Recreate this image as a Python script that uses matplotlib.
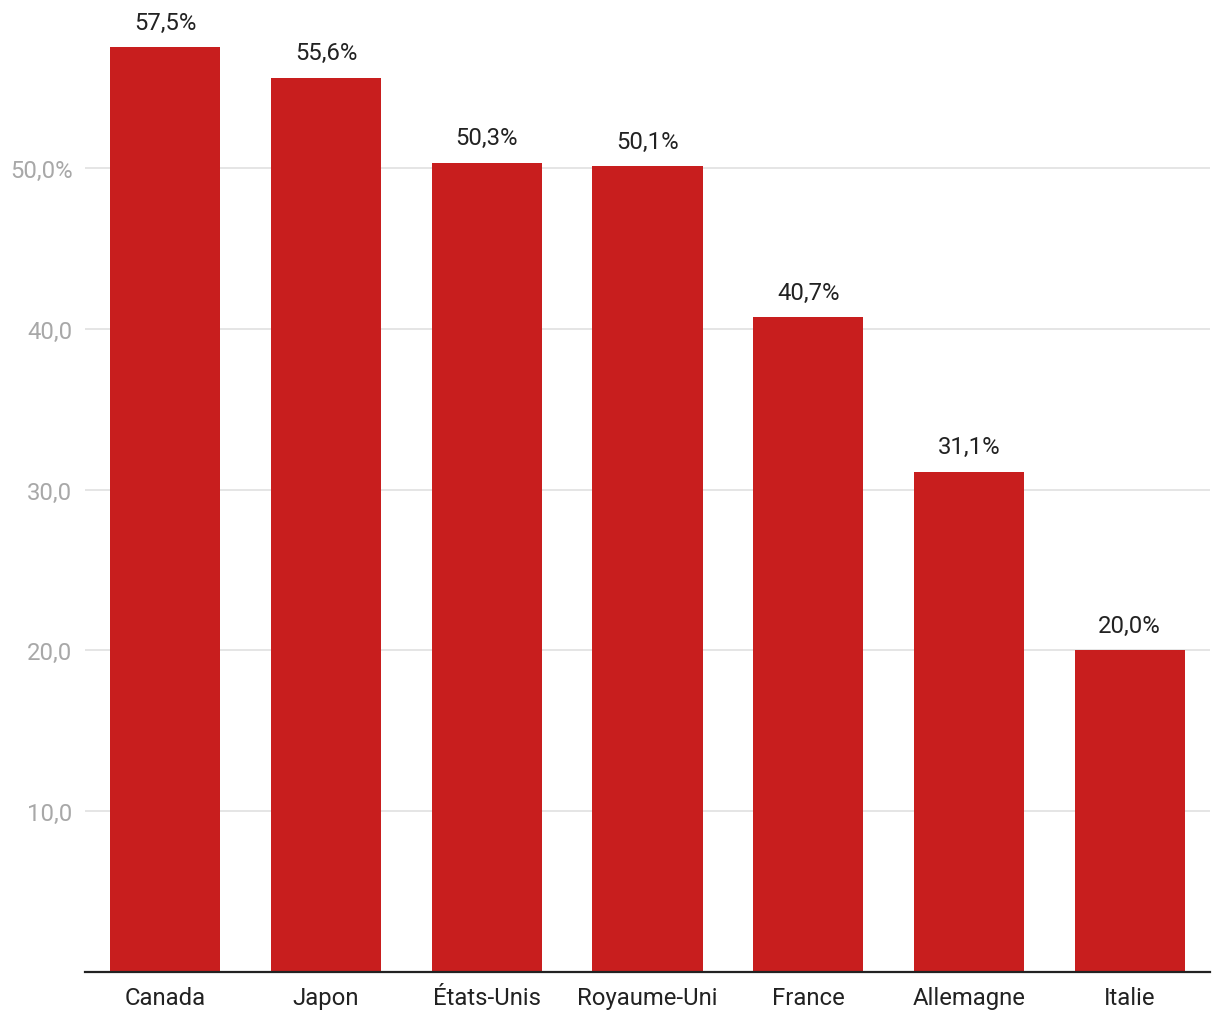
import matplotlib.pyplot as plt

plt.rcParams['font.family'] = ['Roboto', 'DejaVu Sans']

pays = ["Canada", "Japon", "États-Unis", "Royaume-Uni", "France", "Allemagne", "Italie"]
valeurs = [57.5, 55.6, 50.3, 50.1, 40.7, 31.1, 20.0]
graduations = [10, 20, 30, 40, 50]
etiquettes_y = ["10,0", "20,0", "30,0", "40,0", "50,0%"]

fig = plt.figure(figsize=(12.2, 10.2), dpi=100)
ax = fig.add_axes([85 / 1220, 1 - 973 / 1020, 1125 / 1220, 973 / 1020])

x = range(len(pays))
ax.bar(x, valeurs, width=0.685, color="#C81E1E", zorder=3)
ax.set_xlim(-0.5, len(pays) - 0.5)
ax.set_ylim(0, 60.5)

for xi, v in zip(x, valeurs):
    ax.text(xi, v + 0.85, f"{v:.1f}%".replace(".", ","), ha="center", va="bottom",
            fontsize=17.2, color="#222222")

ax.set_yticks(graduations)
ax.set_yticklabels(etiquettes_y, fontsize=17.2, color="#A8A8A8")
ax.set_xticks(list(x))
ax.set_xticklabels(pays, fontsize=17.2, color="#222222")
ax.tick_params(axis="y", length=0, pad=9)
ax.tick_params(axis="x", length=0, pad=10)
ax.grid(axis="y", color="#E0E0E0", linewidth=1.2, zorder=0)

for s in ["top", "right", "left"]:
    ax.spines[s].set_visible(False)
ax.spines["bottom"].set_linewidth(1.6)
ax.spines["bottom"].set_color("#222222")
ax.spines["bottom"].set_zorder(4)

fig.savefig("out.png", dpi=100)
